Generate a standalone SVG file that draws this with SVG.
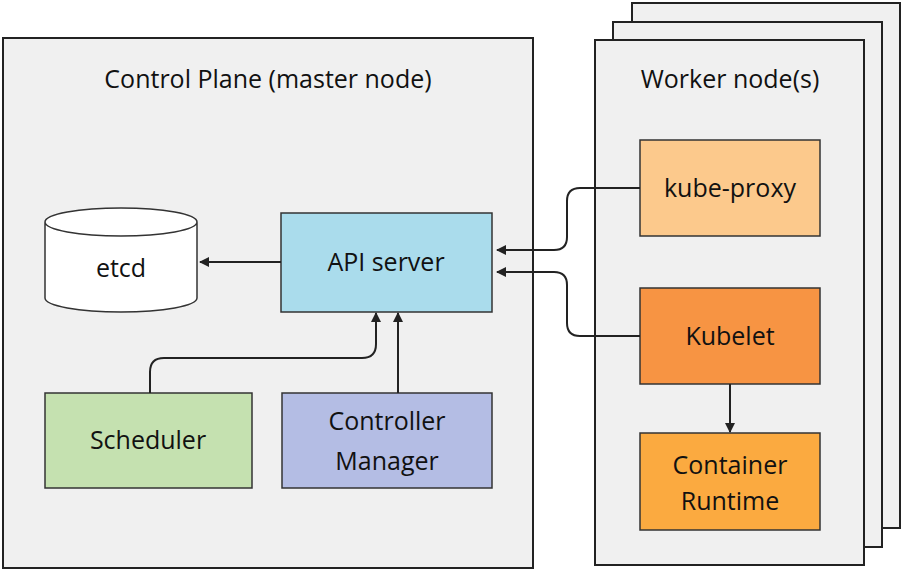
<svg xmlns="http://www.w3.org/2000/svg" width="905" height="573" viewBox="0 0 905 573">
<defs>
<style>
.frame{fill:#f0f0f0;stroke:#222;stroke-width:2}
.n{stroke:#333;stroke-width:1.5}
.t{font-family:"Open Sans","Liberation Sans",sans-serif;font-size:25px;fill:#111;text-anchor:middle}
.c{fill:none;stroke:#222;stroke-width:2}
</style>
<marker id="ah" markerWidth="10" markerHeight="10" refX="9" refY="5" orient="auto" markerUnits="userSpaceOnUse"><path d="M0,0 L10,5 L0,10 z" fill="#222"/></marker>
</defs>
<rect width="905" height="573" fill="#fff"/>
<g id="control-plane"><rect class="frame" x="3" y="38" width="530" height="530"/><text class="t" x="268" y="88">Control Plane (master node)</text></g>
<g id="worker-nodes">
<rect class="frame" x="632" y="3" width="268" height="525"/>
<rect class="frame" x="613" y="22" width="269" height="525"/>
<rect class="frame" x="595" y="40" width="269" height="525"/>
<text class="t" x="730" y="88">Worker node(s)</text></g>
<g id="etcd"><path class="n" fill="#fff" d="M45,222 V298 A76,14 0 0 0 197,298 V222 A76,14 0 0 0 45,222 A76,14 0 0 0 197,222"/><text class="t" x="121" y="277">etcd</text></g>
<g id="api-server"><rect class="n" fill="#aadcec" x="281" y="213" width="211" height="99"/><text class="t" x="386" y="271">API server</text></g>
<g id="scheduler"><rect class="n" fill="#c5e1b0" x="45" y="393" width="207" height="95"/><text class="t" x="148" y="449">Scheduler</text></g>
<g id="controller-manager"><rect class="n" fill="#b4bde4" x="282" y="393" width="210" height="95"/><text class="t" x="387" y="430">Controller</text><text class="t" x="387" y="470">Manager</text></g>
<g id="kube-proxy"><rect class="n" fill="#fcc98c" x="640" y="140" width="180" height="96"/><text class="t" x="730" y="197">kube-proxy</text></g>
<g id="kubelet"><rect class="n" fill="#f79443" x="640" y="288" width="180" height="96"/><text class="t" x="730" y="345">Kubelet</text></g>
<g id="container-runtime"><rect class="n" fill="#fbaa40" x="640" y="433" width="180" height="97"/><text class="t" x="730" y="474">Container</text><text class="t" x="730" y="510">Runtime</text></g>
<g id="connectors">
<path class="c" marker-end="url(#ah)" d="M281,262 H200"/>
<path class="c" marker-end="url(#ah)" d="M150,393 V372 Q150,358 164,358 H362 Q376,358 376,344 V313"/>
<path class="c" marker-end="url(#ah)" d="M398,393 V313"/>
<path class="c" marker-end="url(#ah)" d="M640,188 H580 Q567,188 567,201 V237 Q567,250 554,250 H497"/>
<path class="c" marker-end="url(#ah)" d="M640,336 H580 Q567,336 567,323 V285 Q567,272 554,272 H497"/>
<path class="c" marker-end="url(#ah)" d="M730,384 V432"/>
</g>
</svg>
